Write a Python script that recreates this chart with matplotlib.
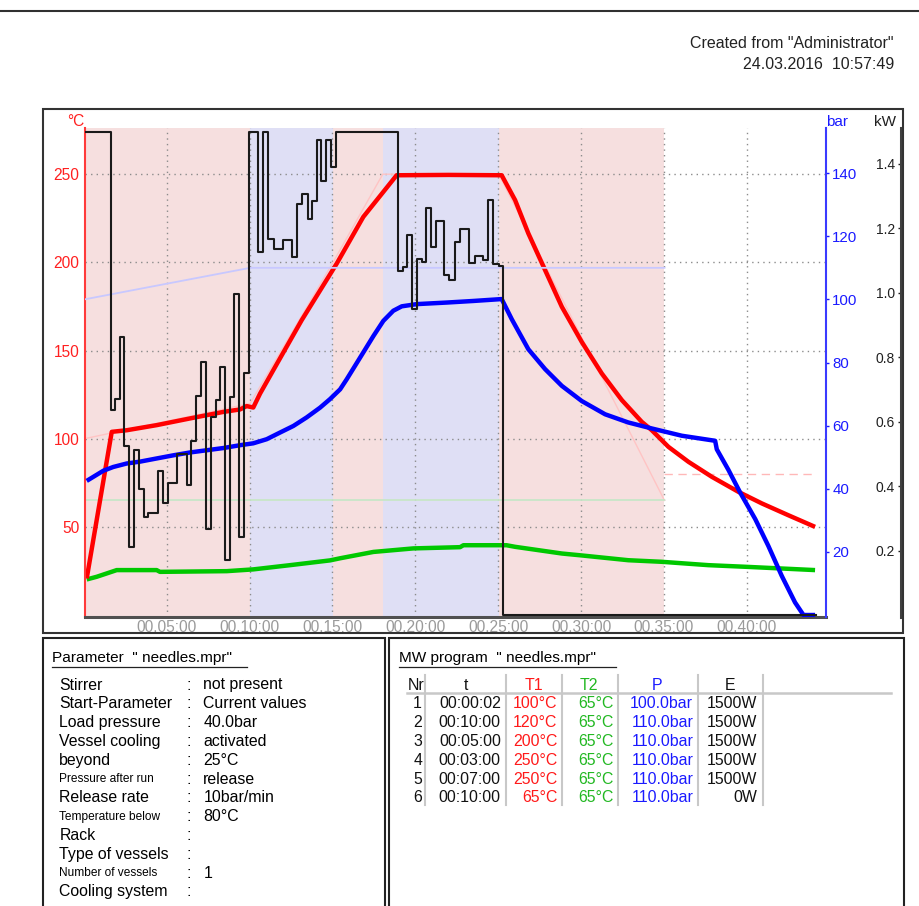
import matplotlib
matplotlib.use('Agg')
import matplotlib.pyplot as plt
from matplotlib.patches import Rectangle
from matplotlib.lines import Line2D
import numpy as np

plt.rcParams['font.family'] = ['Liberation Sans', 'DejaVu Sans']

W, H = 919, 906

# MW program "needles.mpr"
step_nr = [1, 2, 3, 4, 5, 6]
step_time = ['00:00:02', '00:10:00', '00:05:00', '00:03:00', '00:07:00', '00:10:00']
step_t1 = [100, 120, 200, 250, 250, 65]
step_t2 = [65, 65, 65, 65, 65, 65]
step_p = [100.0, 110.0, 110.0, 110.0, 110.0, 110.0]
step_e = [1500, 1500, 1500, 1500, 1500, 0]
temp_below = 80

# run parameters
param_names = ['Stirrer', 'Start-Parameter', 'Load pressure', 'Vessel cooling', 'beyond',
               'Pressure after run', 'Release rate', 'Temperature below', 'Rack',
               'Type of vessels', 'Number of vessels', 'Cooling system']
param_values = ['not present', 'Current values', '40.0bar', 'activated', '25°C',
                'release', '10bar/min', '80°C', '', '', '1', '']
param_small = ['Pressure after run', 'Temperature below', 'Number of vessels']

# logged curves, time in minutes
t1_time = [0.17, 1.68, 2.58, 4.39, 6.40, 8.41, 9.42, 9.82, 10.22, 10.63, 11.43, 13.14, 15.26,
           16.86, 18.07, 18.87, 22.0, 25.21, 26.02, 26.82, 27.83, 28.84, 30.04, 31.25, 32.46,
           33.66, 34.27, 35.27, 36.48, 37.89, 39.49, 40.91, 42.51, 44.12]
t1_vals = [20.8, 103.9, 104.8, 107.7, 111.5, 115.2, 116.6, 118.5, 117.7, 125.6, 138.9, 167.2,
           199.4, 225.8, 240.0, 249.4, 249.6, 249.4, 235.3, 216.4, 195.6, 174.8, 154.9, 137.0,
           121.9, 109.6, 104.8, 95.4, 86.9, 78.4, 69.9, 63.3, 56.6, 50.0]

t2_time = [0.17, 0.77, 1.98, 4.39, 4.59, 8.62, 10.22, 12.44, 14.85, 15.46, 17.47, 19.88, 22.7,
           22.9, 25.5, 26.02, 28.84, 29.94, 32.85, 34.87, 37.68, 40.10, 44.12]
t2_vals = [20.2, 21.7, 25.5, 25.5, 24.5, 24.9, 25.9, 28.3, 31.0, 32.2, 35.8, 37.8, 38.5,
           39.6, 39.6, 38.7, 34.9, 33.9, 31.1, 30.2, 28.3, 27.3, 25.5]

p_time = [0.17, 0.67, 1.17, 1.77, 2.58, 3.39, 4.39, 5.40, 6.40, 7.41, 8.41, 9.42, 10.22, 11.03,
          11.83, 12.64, 13.44, 14.25, 14.85, 15.46, 15.86, 16.86, 17.47, 18.07, 18.67, 19.18,
          20.08, 21.9, 23.5, 25.21, 25.82, 26.82, 27.83, 28.84, 30.04, 31.45, 32.85, 34.27,
          36.08, 38.09, 38.19, 38.89, 39.60, 40.51, 41.30, 42.11, 42.91, 43.42, 44.12]
p_vals = [42.5, 44.1, 45.7, 46.9, 48.0, 48.6, 49.6, 50.6, 51.5, 52.2, 52.9, 53.8, 54.4, 55.7,
          57.8, 59.9, 62.6, 65.7, 68.4, 71.5, 74.7, 83.2, 88.4, 93.2, 96.4, 97.8,
          98.5, 99.0, 99.5, 100.1, 93.7, 84.2, 77.9, 72.6, 67.8, 63.6, 61.0, 59.1,
          56.8, 55.2, 52.5, 46.0, 38.8, 30.4, 21.9, 12.4, 4.0, 0.0, 0.0]

e_time = [0.1, 1.62, 1.88, 2.18, 2.44, 2.74, 3.04, 3.34, 3.65, 3.89, 4.49, 4.76, 5.06, 5.64,
          6.20, 6.46, 6.77, 7.07, 7.37, 7.65, 7.97, 8.21, 8.52, 8.82, 9.08, 9.38, 9.68, 9.98,
          10.52, 10.79, 11.13, 11.47, 12.03, 12.58, 12.88, 13.18, 13.50, 13.75, 14.05, 14.31,
          14.61, 14.89, 15.21, 18.94, 19.24, 19.48, 19.78, 20.08, 20.39, 20.65, 20.93, 21.23,
          21.75, 22.05, 22.40, 22.70, 23.24, 23.60, 24.07, 24.41, 24.71, 25.07, 25.31, 44.2]
e_kw = [1.5, 0.637, 0.669, 0.864, 0.526, 0.210, 0.512, 0.391, 0.305, 0.316, 0.448, 0.347,
        0.409, 0.500, 0.402, 0.541, 0.681, 0.784, 0.267, 0.616, 0.668, 0.771, 0.171, 0.678,
        0.997, 0.241, 0.750, 1.5, 1.126, 1.5, 1.167, 1.136, 1.162, 1.110, 1.274, 1.307,
        1.229, 1.286, 1.475, 1.346, 1.475, 1.390, 1.5, 1.067, 1.079, 1.178, 0.950, 1.105,
        1.095, 1.264, 1.141, 1.224, 1.056, 1.038, 1.157, 1.198, 1.092, 1.115, 1.100, 1.289,
        1.090, 1.084, 0.0, 0.0]

time_ticks = [5, 10, 15, 20, 25, 30, 35, 40]
temp_ticks = [50, 100, 150, 200, 250]
bar_ticks = [20, 40, 60, 80, 100, 120, 140]
kw_ticks = [0.2, 0.4, 0.6, 0.8, 1.0, 1.2, 1.4]


def fx(x):
    return x / W


def fy(y):
    return 1 - y / H


def minutes(s):
    h, m, sec = [int(v) for v in s.split(':')]
    return h * 60 + m + sec / 60.0


durations = np.array([minutes(s) for s in step_time])
step_end = np.cumsum(durations)
step_start = step_end - durations
prog_x = [0.0] + list(step_end)

fig = plt.figure(figsize=(W / 100, H / 100), dpi=100)

ax = fig.add_axes([fx(85), fy(617), (826 - 85) / W, (617 - 128) / H])
ax.set_xlim(0.066, 44.78)
ax.set_ylim(-1.1, 276.2)
ax2 = ax.twinx()
ax2.set_ylim(-0.63, 154.3)
ax3 = ax.twinx()
ax3.set_ylim(-0.006, 1.511)

# phase background, one band per program step
for i in range(len(step_nr)):
    col = '#f6dfdf' if i % 2 else '#dfdff5'
    ax.axvspan(step_start[i], step_end[i], color=col, lw=0, zorder=0.2)

ax.set_axisbelow(True)
ax.grid(True, color='#8c8c8c', linestyle=(0, (1, 3)), linewidth=1.0)

# program set points
ax.plot(prog_x, [step_t1[0]] + step_t1, color='#ffc4c4', lw=1.0, zorder=1)
ax.plot([step_end[-1], e_time[-1]], [temp_below, temp_below], color='#ffb8b8', lw=1.0,
        dashes=(6, 4), zorder=1)
ax.plot(prog_x, [step_t2[0]] + step_t2, color='#c8e6c8', lw=1.3, zorder=1)
ax2.plot(prog_x, [step_p[0]] + step_p, color='#c8c8ff', lw=1.3, zorder=1)

# measured curves
ax.plot(t2_time, t2_vals, color='#00c800', lw=3.2, solid_capstyle='butt')
ax.plot(t1_time, t1_vals, color='#ff0000', lw=3.2, solid_capstyle='butt')
ax2.plot(p_time, p_vals, color='#0000ff', lw=3.2, solid_capstyle='butt')
ax3.plot(e_time, e_kw, drawstyle='steps-post', color='#1a1a1a', lw=1.5)

# temperature axis
for s in ['top', 'right']:
    ax.spines[s].set_visible(False)
ax.spines['left'].set_color('#ff3a3a')
ax.spines['left'].set_linewidth(1.5)
ax.spines['bottom'].set_color('#505050')
ax.spines['bottom'].set_linewidth(2.2)
ax.set_yticks(temp_ticks)
ax.tick_params(axis='y', colors='#ff2020', length=0, pad=4, labelsize=11.2)
ax.set_xticks(time_ticks)
ax.set_xticklabels(['00.%02d:00' % m for m in time_ticks])
ax.tick_params(axis='x', length=0, pad=2.5, labelsize=11.2, labelcolor='#9a9a9a')

# pressure axis
for s in ['top', 'left', 'bottom']:
    ax2.spines[s].set_visible(False)
ax2.spines['right'].set_color('#3a3aff')
ax2.spines['right'].set_linewidth(1.5)
ax2.set_yticks(bar_ticks)
ax2.tick_params(axis='y', colors='#1a1aff', length=2.5, width=1, pad=2, labelsize=10.8)

# power axis, labels on the inner side
for s in ['top', 'right', 'bottom']:
    ax3.spines[s].set_visible(False)
ax3.spines['left'].set_visible(True)
ax3.spines['left'].set_position(('axes', (900.5 - 85) / (826 - 85)))
ax3.spines['left'].set_color('#404040')
ax3.spines['left'].set_linewidth(2.2)
ax3.yaxis.tick_left()
ax3.set_yticks(kw_ticks)
ax3.set_yticklabels(['%.1f' % v for v in kw_ticks])
ax3.tick_params(axis='y', colors='#202020', length=2.5, width=1, pad=1.5, labelsize=10)

fig.text(fx(76), fy(121.5), '°C', color='#ff2020', ha='center', va='center', size=11.2)
fig.text(fx(836.7), fy(121.5), 'bar', color='#1a1aff', ha='center', va='center', size=11)
fig.text(fx(885), fy(121.5), 'kW', color='#202020', ha='center', va='center', size=11)

# page frame
fig.add_artist(Line2D([0, 1], [fy(10.5), fy(10.5)], color='#303030', lw=1.5))
fig.add_artist(Rectangle((fx(43), fy(633)), (903 - 43) / W, (633 - 109) / H,
                         transform=fig.transFigure, fill=False, ec='#333333', lw=1.5))
fig.add_artist(Rectangle((fx(43), fy(912)), (385 - 43) / W, (912 - 638) / H,
                         transform=fig.transFigure, fill=False, ec='#222222', lw=1.5))
fig.add_artist(Rectangle((fx(388.5), fy(912)), (904 - 388.5) / W, (912 - 638) / H,
                         transform=fig.transFigure, fill=False, ec='#222222', lw=1.5))

fig.text(fx(894), fy(44), 'Created from "Administrator"', ha='right', va='center', size=11.5,
         color='#222222')
fig.text(fx(894), fy(64.5), '24.03.2016  10:57:49', ha='right', va='center', size=11.5,
         color='#222222')

# parameter panel
fig.text(fx(51.7), fy(658), 'Parameter  " needles.mpr"  ', ha='left', va='center', size=11.1)
fig.add_artist(Line2D([fx(51.7), fx(246.7)], [fy(667), fy(667)], color='#222222', lw=0.9))
for i, (name, val) in enumerate(zip(param_names, param_values)):
    y = fy(685 + i * 18.8)
    size = 8.6 if name in param_small else 11.4
    fig.text(fx(59.3), y, name, ha='left', va='center', size=size)
    fig.text(fx(189), y, ':', ha='center', va='center', size=11.4)
    if val:
        fig.text(fx(203.3), y, val, ha='left', va='center', size=11.4)

# program panel
fig.text(fx(399.4), fy(658), 'MW program  " needles.mpr"  ', ha='left', va='center', size=11.1)
fig.add_artist(Line2D([fx(399.4), fx(616.2)], [fy(667), fy(667)], color='#222222', lw=0.9))

col_head = ['Nr', 't', 'T1', 'T2', 'P', 'E']
col_color = ['#111111', '#111111', '#ff1a1a', '#22b822', '#1a1aff', '#111111']
col_center = [416, 465.5, 534, 588.8, 657.3, 730.2]
col_right = [422, 500.8, 557.3, 613.8, 693.2, 757.6]
col_sep = [425.4, 505.9, 562.4, 617.9, 698.4, 762.7]

for head, c, xc in zip(col_head, col_color, col_center):
    fig.text(fx(xc), fy(685), head, ha='center', va='center', size=11.4, color=c)
for xs in col_sep:
    fig.add_artist(Line2D([fx(xs), fx(xs)], [fy(675), fy(805)], color='#c8c8c8', lw=1.5))
fig.add_artist(Line2D([fx(407), fx(891)], [fy(693.3), fy(693.3)], color='#c8c8c8', lw=1.8))

for i in range(len(step_nr)):
    y = fy(703.8 + i * 18.8)
    cells = [str(step_nr[i]), step_time[i], '%d°C' % step_t1[i], '%d°C' % step_t2[i],
             '%.1fbar' % step_p[i], '%dW' % step_e[i]]
    for txt, c, xr in zip(cells, col_color, col_right):
        fig.text(fx(xr), y, txt, ha='right', va='center', size=11.4, color=c)

fig.savefig('out.png', dpi=100)
